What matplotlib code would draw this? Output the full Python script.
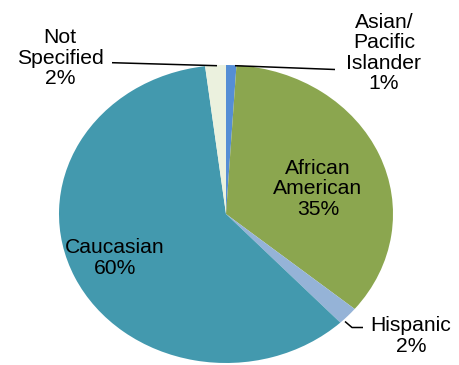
import matplotlib
matplotlib.use("Agg")
import matplotlib.pyplot as plt

# Race / ethnicity breakdown (percent)
categories = ["Asian/\nPacific\nIslander", "African\nAmerican", "Hispanic", "Caucasian", "Not\nSpecified"]
values = [1, 35, 2, 60, 2]
colors = ["#558ED5", "#8BA64F", "#95B3D7", "#4399AE", "#EBF1DE"]

plt.rcParams["font.family"] = ["Liberation Sans", "DejaVu Sans"]

W, H, DPI = 459, 365, 100
fig = plt.figure(figsize=(W / DPI, H / DPI), dpi=DPI)
ax = fig.add_axes([0, 0, 1, 1])
ax.set_axis_off()

# pie centre and radii in pixels (the pie is slightly squashed vertically)
CX, CY, RX, RY = 226, 214, 167, 149


def P(px, py):
    """pixel position (from top-left) -> data coordinates"""
    return (px - CX) / RX, (CY - py) / RY


ax.pie(values, colors=colors, startangle=90, counterclock=False,
       radius=1.0, center=(0, 0), frame=False,
       wedgeprops=dict(linewidth=0))
ax.set_aspect("auto")
x0, y0 = P(0, H)
x1, y1 = P(W, 0)
ax.set_xlim(x0, x1)
ax.set_ylim(y0, y1)

fs = 15.2
labels = [f"{c}\n{v}%" for c, v in zip(categories, values)]
label_pos = [(384, 53), (318, 189), (411, 336), (115, 258), (60, 58)]
for text, (px, py) in zip(labels, label_pos):
    ax.text(*P(px, py), text, ha="center", va="center", fontsize=fs,
            color="black", linespacing=1.08)

# leader lines
lines = [
    [(112, 62.7), (217, 65.7)],
    [(235, 65.7), (335, 69.5)],
    [(345, 321.5), (352, 327.5), (363, 327.5)],
]
for pts in lines:
    xs, ys = zip(*[P(*p) for p in pts])
    ax.plot(xs, ys, color="black", linewidth=1.1, solid_capstyle="butt")

fig.savefig("out.png", dpi=DPI)
